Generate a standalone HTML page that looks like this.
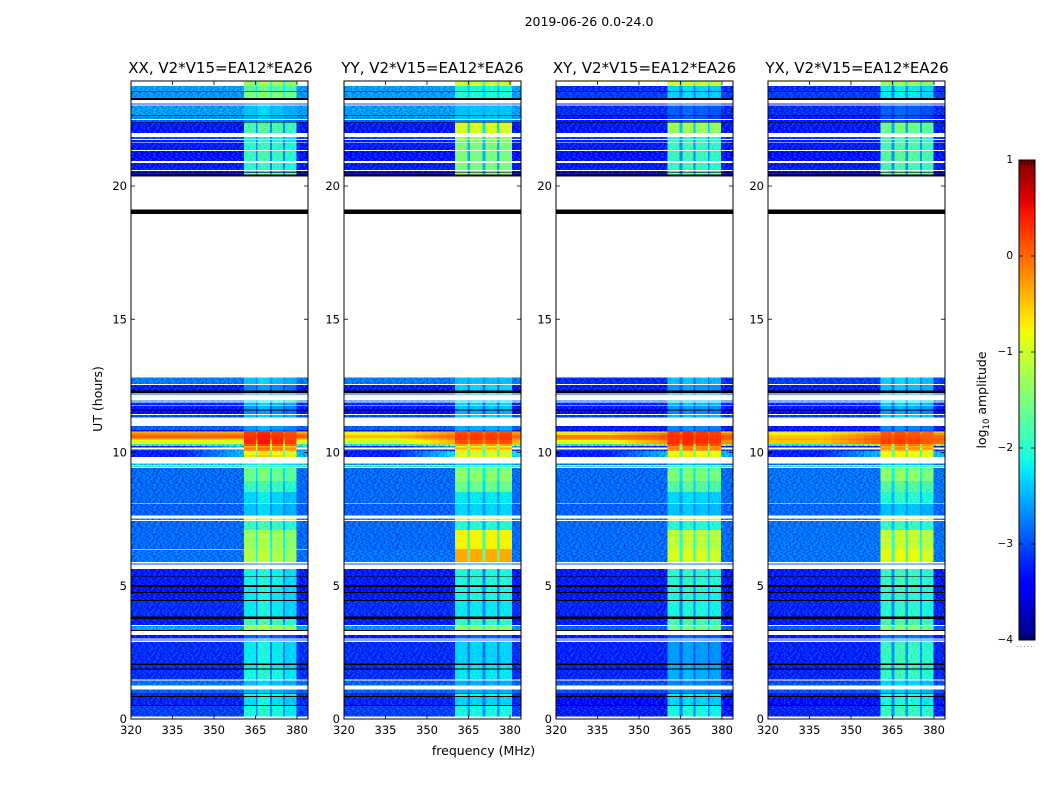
<!DOCTYPE html>
<html>
<head>
<meta charset="utf-8">
<title>2019-06-26 0.0-24.0</title>
<style>
html,body{margin:0;padding:0;background:#fff;}
svg{display:block;font-family:"DejaVu Sans","Liberation Sans",sans-serif;fill:#000;}
</style>
</head>
<body>
<svg id="figure" xmlns="http://www.w3.org/2000/svg" width="1050" height="800" viewBox="0 0 1050 800">
<defs>
<pattern id="speckle" patternUnits="userSpaceOnUse" width="22.08" height="22.08">
<path id="speckle-dark" fill="#0000c8" opacity="0.42" d=""/>
<path id="speckle-light" fill="#00d0ff" opacity="0.38" d=""/>
</pattern>
</defs>
<text x="589" y="26" text-anchor="middle" font-size="12.5">2019-06-26 0.0-24.0</text>
<text x="483.5" y="755" text-anchor="middle" font-size="12.5">frequency (MHz)</text>
<text transform="translate(102,399) rotate(-90)" text-anchor="middle" font-size="12.5">UT (hours)</text>
<text transform="translate(986,400) rotate(-90)" text-anchor="middle" font-size="12.5">log<tspan font-size="8.5" dy="3">10</tspan><tspan dy="-3"> amplitude</tspan></text>
</svg>
<script>
// Shared axes
const xTickLabels = [320, 335, 350, 365, 380];
const yTickLabels = [0, 5, 10, 15, 20];
const colorbarTicks = [1, 0, -1, -2, -3, -4];

// UT hour of the top edge of each observed row, and what the row holds
// (d = measured, w = no data / blank, k = flagged black)
const rowTopHours = [23.94,23.75,23.55,23.52,23.31,23.23,23.09,23.06,23.02,22.66,22.64,22.51,22.48,22.41,22.38,21.98,21.83,21.76,21.73,21.65,21.63,21.35,21.31,20.94,20.86,20.60,20.56,20.51,20.48,20.44,20.35,19.12,18.95,
12.82,12.57,12.54,12.32,12.24,12.21,12.17,11.96,11.91,11.88,11.78,11.76,11.61,11.57,11.44,11.41,11.31,10.99,10.84,10.79,10.75,10.66,10.53,10.47,10.32,10.24,10.19,10.11,10.06,9.91,9.84,9.59,9.54,9.51,9.46,9.42,8.93,8.52,8.09,8.07,7.63,7.53,7.47,7.43,7.09,6.37,6.34,5.90,5.84,5.80,
5.63,5.34,5.32,5.02,4.96,4.77,4.72,4.47,4.42,3.84,3.76,3.53,3.49,3.34,3.30,3.15,3.03,2.99,2.95,2.88,2.09,2.03,1.90,1.86,1.49,1.44,1.26,1.11,0.96,0.93,0.86,0.83,0.53,0.49,0.09];
const rowKinds = "ddkdkwdwdkdwdkdwdwdwdwdwdwdkdkwkw"
  + "dwdkwdwdwdwdkdwdw" + "ddddddddddddd" + "wdwdw" + "ddd" + "wdwdw" + "dddd" + "wdw"
  + "dkdkdkdkdkdwdkwdwdwdkdkdwdwdkdkdkdw";
const lastRowBottomHour = 0;

// Channel ranges of the four bright sub-bands, MHz (start,end per band)
const xxBandEdges = [360.9,365.2,365.7,370.3,370.9,375.0,375.7,379.9];
const yyBandEdges = [360.2,364.6,365.6,370.0,371.2,375.4,376.3,380.8];
const xyBandEdges = [360.3,364.6,365.8,369.8,370.4,374.9,375.5,379.7];
const yxBandEdges = [360.7,364.6,365.8,369.8,370.6,375.0,375.6,379.8];

// log10 amplitude per measured row: off-band background
const xxBackground = [null,-2.55,-2.6,-3.0,-2.55,-2.65,-2.9,-3.3,-3.0,-3.3,-3.3,-3.35,-3.3,-3.4,-3.3,
-2.75,-3.3,-3.0,-2.8,-3.2,-3.3,-3.4,-3.0,-2.9,-3.6,
-0.6,-0.15,0.05,-0.5,-0.95,-1.7,-3.3,null,-3.2,-3.3,-3.3,
-2.3,-1.9,-2.85,-2.85,-2.85,-2.9,-2.7,-2.85,-2.85,-1.9,-2.8,
-3.0,-3.3,-3.3,-3.35,-3.3,-3.2,-3.3,-2.5,-3.3,-3.0,-3.2,-3.2,-3.2,-2.8,-2.9,-3.2,-3.25,-3.1];
const yyBackground = [null,-2.55,-2.55,-3.0,-2.55,-2.6,-2.9,-3.3,-3.0,-3.3,-3.3,-3.35,-3.3,-3.4,-3.3,
-2.75,-3.3,-3.0,-2.8,-3.2,-3.3,-3.4,-3.0,-2.9,-3.6,
-0.9,-0.7,-0.45,-0.9,-1.1,-2.0,-3.3,null,-3.2,-3.3,-3.3,
-2.6,-1.9,-2.85,-2.85,-2.85,-2.9,-2.7,-2.85,-2.85,-2.85,-2.8,
-3.0,-3.3,-3.3,-3.35,-3.3,-3.2,-3.3,-2.6,-3.3,-3.0,-3.2,-3.2,-3.2,-2.9,-2.9,-3.2,-3.25,-3.1];
const xyBackground = [null,-3.2,-3.1,-3.3,-3.2,-3.3,-3.3,-3.3,-3.1,-3.3,-3.3,-3.35,-3.3,-3.4,-3.3,
-3.2,-3.3,-3.1,-2.9,-3.2,-3.3,-3.4,-3.1,-3.3,-3.6,
-0.9,-0.6,-0.1,-0.3,-0.9,-2.0,-3.3,null,-3.2,-3.3,-3.3,
-2.8,-1.9,-2.85,-2.85,-2.85,-2.9,-2.7,-2.85,-2.85,-2.85,-2.85,
-3.0,-3.3,-3.3,-3.35,-3.3,-3.25,-3.3,-2.9,-3.3,-3.1,-3.25,-3.25,-3.25,-3.0,-3.0,-3.4,-3.4,-3.3];
const yxBackground = [null,-3.2,-3.1,-3.3,-3.2,-3.3,-3.3,-3.3,-3.1,-3.3,-3.3,-3.35,-3.3,-3.4,-3.3,
-3.1,-3.3,-3.1,-2.9,-3.2,-3.3,-3.4,-3.1,-3.3,-3.6,
-0.9,-0.7,-0.5,-0.4,-0.5,-2.0,-3.3,null,-3.2,-3.3,-3.3,
-2.8,-1.9,-2.8,-2.8,-2.8,-2.85,-2.7,-2.8,-2.8,-2.8,-2.8,
-3.0,-3.3,-3.3,-3.35,-3.3,-3.25,-3.3,-2.9,-3.3,-3.1,-3.25,-3.25,-3.25,-3.0,-3.0,-3.3,-3.35,-3.25];

// log10 amplitude per measured row: inside the bright sub-bands
const xxBand = [-1.3,-1.7,-1.5,-2.8,-2.4,-2.5,-2.7,-1.8,-2.1,-2.1,-2.0,-1.9,-2.0,-2.3,-1.4,
-2.4,-2.7,-2.6,-2.2,-2.4,-2.6,-2.7,-2.4,-2.6,-2.8,
0.15,0.25,0.3,0.3,0.35,0.1,-0.4,-0.1,-0.3,-0.8,-0.6,
-2.2,-1.8,-1.6,-1.9,-2.3,-2.4,-0.9,-1.9,-1.3,-1.2,-1.2,
-2.8,-2.15,-2.15,-2.2,-2.2,-2.2,-1.85,-1.3,-2.9,-2.7,-2.2,-2.2,-2.1,-2.4,-2.5,-2.1,-2.25,-2.1];
const yyBand = [-1.0,-2.1,-2.0,-2.8,-2.4,-2.4,-2.7,-0.95,-1.3,-1.4,-1.5,-1.5,-1.5,-1.7,-1.0,
-2.4,-2.3,-2.5,-2.3,-2.3,-2.4,-2.5,-2.3,-2.5,-2.7,
0.15,0.2,0.25,0.3,0.15,-0.3,-1.0,-0.4,-0.7,-1.0,-0.8,
-2.4,-1.9,-1.4,-1.6,-2.2,-2.3,-0.9,-2.0,-0.75,-0.35,-0.35,
-2.7,-2.05,-2.05,-2.1,-2.1,-2.2,-1.9,-1.4,-2.9,-2.7,-2.3,-2.2,-2.2,-2.5,-2.5,-2.1,-2.3,-2.1];
const xyBand = [-1.0,-2.3,-2.3,-2.9,-2.9,-3.0,-3.0,-1.3,-1.9,-1.9,-1.9,-1.9,-1.9,-2.1,-1.4,
-2.4,-2.6,-2.6,-2.3,-2.4,-2.6,-2.7,-2.4,-2.7,-2.8,
0.3,0.25,0.3,0.35,0.3,0.2,-0.2,-0.1,-0.3,-0.8,-0.7,
-2.5,-1.8,-1.5,-1.7,-2.3,-2.4,-0.8,-2.0,-1.1,-0.95,-0.95,
-2.8,-2.0,-2.0,-2.05,-2.1,-2.1,-1.8,-1.5,-2.9,-2.8,-2.6,-2.5,-2.5,-2.7,-2.7,-2.2,-2.3,-2.1];
const yxBand = [-1.3,-2.2,-2.2,-2.9,-2.9,-3.0,-3.0,-1.6,-1.8,-1.8,-1.8,-1.7,-1.8,-2.0,-1.4,
-2.3,-2.4,-2.5,-2.2,-2.3,-2.5,-2.6,-2.3,-2.7,-2.8,
0.1,0.1,0.15,0.2,0.2,-0.1,-0.4,-0.2,-0.5,-0.8,-0.8,
-2.4,-1.8,-1.4,-1.7,-2.0,-2.4,-0.8,-1.9,-1.05,-0.85,-0.85,
-2.7,-1.9,-1.9,-1.95,-2.0,-2.0,-1.8,-1.4,-2.8,-2.6,-1.9,-1.9,-1.9,-2.3,-2.4,-2.0,-2.1,-1.9];

// Level just below and above the sub-bands where it differs from background (row index: level)
const xxNearBand = {31:-2.3,33:-2.6,34:-2.4,35:-2.4};
const yyNearBand = {25:-0.4,26:-0.2,27:0,28:-0.2,29:-0.4,30:-1,31:-2.5,34:-2.2,35:-2.2};
const xyNearBand = {26:-0.1,27:0.1,28:0,29:-0.2,30:-1.2,34:-2.4,35:-2.4};
const yxNearBand = {26:-0.2,27:0,28:0.1,29:0,30:-1,34:-2.4,35:-2.4};

// Relative brightness of the four sub-bands, per polarisation
const xxBandOffsets = [0,0.12,0,-0.1];
const yyBandOffsets = [0,0,0,0];
const xyBandOffsets = [0,0.05,0,-0.05];
const yxBandOffsets = [0,0.05,0,-0.1];

const xxTitle = "XX, V2*V15=EA12*EA26";
const yyTitle = "YY, V2*V15=EA12*EA26";
const xyTitle = "XY, V2*V15=EA12*EA26";
const yxTitle = "YX, V2*V15=EA12*EA26";

// Purely decorative channel-noise texture tile (d = darker pixel, l = lighter pixel)
const noiseTile = [
".d.l..d.ld..l.d.",
"l..d.l..d.l.d..l",
".dl..d.l..dl..d.",
"d..l.d..ld...l.d",
".l.d..l.d..dl...",
"..d.ld..l.d...ld",
"ld...l.d..l.dl..",
".d.l..dl.d..l..d",
"l..d.l...l.dl.d.",
".dl...d.ld..d..l",
"d..ld.l...l.d.l.",
".l..d..dl.d..l.d",
"..l.d.l..d.l.d..",
"dl...d..l.dl...d",
"..d.l.d.d...l.d.",
"l.d..l...ld.d..l"];

const svgNS = "http://www.w3.org/2000/svg";
const figure = document.getElementById("figure");
const PLOT_TOP = 81, PLOT_BOTTOM = 719, PX_PER_HOUR = 26.65, PX_PER_MHZ = 2.766, PLOT_W = 177, F0 = 320, F1 = 384;
const CB_X = 1019, CB_W = 16, CB_TOP = 160, CB_BOTTOM = 640, CB_MIN = -4, CB_MAX = 1;

function mk(tag, attrs, parent) {
  const el = document.createElementNS(svgNS, tag);
  for (const k in attrs) el.setAttribute(k, attrs[k]);
  (parent || figure).appendChild(el);
  return el;
}
function hourY(h) { return Math.min(PLOT_BOTTOM, PLOT_BOTTOM - h * PX_PER_HOUR); }
function clamp(v) { return Math.max(0, Math.min(1, v)); }
function ramp(t, pts) {
  for (let i = 1; i < pts.length; i++) {
    if (t <= pts[i][0]) {
      const a = pts[i - 1], b = pts[i];
      return a[1] + (b[1] - a[1]) * (t - a[0]) / (b[0] - a[0]);
    }
  }
  return pts[pts.length - 1][1];
}
function jet(t) {
  t = clamp(t);
  const r = ramp(t, [[0, 0], [0.35, 0], [0.66, 1], [0.89, 1], [1, 0.5]]);
  const g = ramp(t, [[0, 0], [0.125, 0], [0.375, 1], [0.64, 1], [0.91, 0], [1, 0]]);
  const b = ramp(t, [[0, 0.5], [0.11, 1], [0.34, 1], [0.65, 0], [1, 0]]);
  return "rgb(" + Math.round(r * 255) + "," + Math.round(g * 255) + "," + Math.round(b * 255) + ")";
}
function levelColor(v) { return jet((v - CB_MIN) / (CB_MAX - CB_MIN)); }

// Fill the noise texture tile
(function () {
  const s = 1.38;
  let dark = "", light = "";
  noiseTile.forEach(function (line, r) {
    for (let c = 0; c < line.length; c++) {
      const sq = "M" + (c * s) + " " + (r * s) + "h" + s + "v" + s + "h-" + s + "z";
      if (line[c] === "d") dark += sq;
      if (line[c] === "l") light += sq;
    }
  });
  document.getElementById("speckle-dark").setAttribute("d", dark);
  document.getElementById("speckle-light").setAttribute("d", light);
})();

const panels = [
  { key: "xx", left: 131, titleShift: 1, title: xxTitle, bg: xxBackground, band: xxBand, near: xxNearBand, edges: xxBandEdges, offs: xxBandOffsets },
  { key: "yy", left: 344, titleShift: 0, title: yyTitle, bg: yyBackground, band: yyBand, near: yyNearBand, edges: yyBandEdges, offs: yyBandOffsets },
  { key: "xy", left: 556, titleShift: 0, title: xyTitle, bg: xyBackground, band: xyBand, near: xyNearBand, edges: xyBandEdges, offs: xyBandOffsets },
  { key: "yx", left: 768, titleShift: 0.5, title: yxTitle, bg: yxBackground, band: yxBand, near: yxNearBand, edges: yxBandEdges, offs: yxBandOffsets }
];

panels.forEach(function (p) {
  const fx = function (f) { return p.left + (f - F0) * PX_PER_MHZ; };
  const group = mk("g", { "shape-rendering": "crispEdges" });
  
  

  let dataIndex = 0;
  rowTopHours.forEach(function (topHour, r) {
    const kind = rowKinds[r];
    const bottomHour = r + 1 < rowTopHours.length ? rowTopHours[r + 1] : lastRowBottomHour;
    const y0 = hourY(topHour), y1 = hourY(bottomHour);
    if (kind === "w") return;
    if (kind === "k") {
      const flag = mk("rect", { x: p.left, y: y0, width: PLOT_W, height: y1 - y0, fill: "#000" }, group);
      
      
      return;
    }
    const i = dataIndex++;
    const bg = p.bg[i], band = p.band[i];
    const near = p.near[i] !== undefined ? p.near[i] : bg;
    const e = p.edges;
    const segs = [];
    if (bg !== null) {
      segs.push([F0, 340, bg]);
      const steps = near === bg ? 1 : 7;
      for (let q = 0; q < steps; q++) {
        const f0 = 340 + (e[0] - 340) * q / steps, f1 = 340 + (e[0] - 340) * (q + 1) / steps;
        segs.push([f0, f1, bg + (near - bg) * (q + 1) / steps]);
      }
      segs.push([e[7], F1, near]);
    }
    for (let b = 0; b < 4; b++) {
      segs.push([e[b * 2], e[b * 2 + 1], band + p.offs[b]]);
      if (b < 3) {
        const base = bg === null ? band - 1.5 : near;
        segs.push([e[b * 2 + 1], e[b * 2 + 2], base + (band - base) * 0.45]);
      }
    }
    segs.forEach(function (s) {
      const cell = mk("rect", { x: fx(s[0]), y: y0, width: fx(s[1]) - fx(s[0]), height: Math.max(1, y1 - y0), fill: levelColor(s[2]) }, group);
      
      
    });
    if (bg !== null && bg < -1.2 && y1 - y0 > 1.2) {
      const texLeft = mk("rect", { x: p.left, y: y0, width: fx(e[0]) - p.left, height: y1 - y0, fill: "url(#speckle)" }, group);
      
      
      const texRight = mk("rect", { x: fx(e[7]), y: y0, width: fx(F1) - fx(e[7]), height: y1 - y0, fill: "url(#speckle)" }, group);
      
      
      if (band < -1.6) {
        const texBand = mk("rect", { x: fx(e[0]), y: y0, width: fx(e[7]) - fx(e[0]), height: y1 - y0, fill: "url(#speckle)", opacity: 0.3 }, group);
        
        
      }
    }
  });

  const frame = mk("rect", { x: p.left, y: PLOT_TOP, width: PLOT_W, height: PLOT_BOTTOM - PLOT_TOP, fill: "none", stroke: "#000", "stroke-width": 1 });
  
  

  xTickLabels.forEach(function (v) {
    const x = fx(v);
    const tb = mk("line", { x1: x, x2: x, y1: PLOT_BOTTOM, y2: PLOT_BOTTOM - 4, stroke: "#000", "stroke-width": 0.8 });
    
    
    const tt = mk("line", { x1: x, x2: x, y1: PLOT_TOP, y2: PLOT_TOP + 4, stroke: "#000", "stroke-width": 0.8 });
    
    
    const lab = mk("text", { x: x, y: 734, "text-anchor": "middle", "font-size": 11.5 });
    lab.textContent = v;
    
    
  });
  yTickLabels.forEach(function (v) {
    const y = hourY(v);
    const tl = mk("line", { x1: p.left, x2: p.left + 4, y1: y, y2: y, stroke: "#000", "stroke-width": 0.8 });
    
    
    const tr = mk("line", { x1: p.left + PLOT_W, x2: p.left + PLOT_W - 4, y1: y, y2: y, stroke: "#000", "stroke-width": 0.8 });
    
    
    const lab = mk("text", { x: p.left - 4, y: y + 4, "text-anchor": "end", "font-size": 11.5 });
    lab.textContent = v;
    
    
  });

  const title = mk("text", { x: p.left + PLOT_W / 2 + p.titleShift, y: 73, "text-anchor": "middle", "font-size": 15 });
  title.textContent = p.title;
  
  
});

// Colorbar
const defs = figure.querySelector("defs");
const grad = mk("linearGradient", { id: "jetGradient", x1: 0, y1: 1, x2: 0, y2: 0 }, defs);
for (let s = 0; s <= 50; s++) {
  mk("stop", { offset: s / 50, "stop-color": jet(s / 50) }, grad);
}
const cbar = mk("rect", { x: CB_X, y: CB_TOP, width: CB_W, height: CB_BOTTOM - CB_TOP, fill: "url(#jetGradient)", stroke: "#000", "stroke-width": 1 });


const cbScale = function (v) { return CB_BOTTOM - (v - CB_MIN) / (CB_MAX - CB_MIN) * (CB_BOTTOM - CB_TOP); };
colorbarTicks.forEach(function (v) {
  const y = cbScale(v);
  const t1 = mk("line", { x1: CB_X, x2: CB_X + 4, y1: y, y2: y, stroke: "#000", "stroke-width": 0.8 });
  
  
  const t2 = mk("line", { x1: CB_X + CB_W, x2: CB_X + CB_W - 4, y1: y, y2: y, stroke: "#000", "stroke-width": 0.8 });
  
  
  const lab = mk("text", { x: 1013, y: y + 3, "text-anchor": "end", "font-size": 10.5 });
  lab.textContent = v < 0 ? "\u2212" + Math.abs(v) : String(v);
  
  
});
[1022, 1025, 1028, 1031, 1034].forEach(function (x) {
  const a = mk("line", { x1: x, x2: x, y1: CB_TOP, y2: CB_TOP + 5, stroke: "#000", "stroke-width": 0.6 });
  
  
  const b = mk("line", { x1: x, x2: x, y1: CB_BOTTOM, y2: CB_BOTTOM - 5, stroke: "#000", "stroke-width": 0.6 });
  
  
});
const dots = mk("line", { x1: 1017, x2: 1035, y1: 646.5, y2: 646.5, stroke: "#999", "stroke-width": 1, "stroke-dasharray": "1 2.5" });


</script>
</body>
</html>
